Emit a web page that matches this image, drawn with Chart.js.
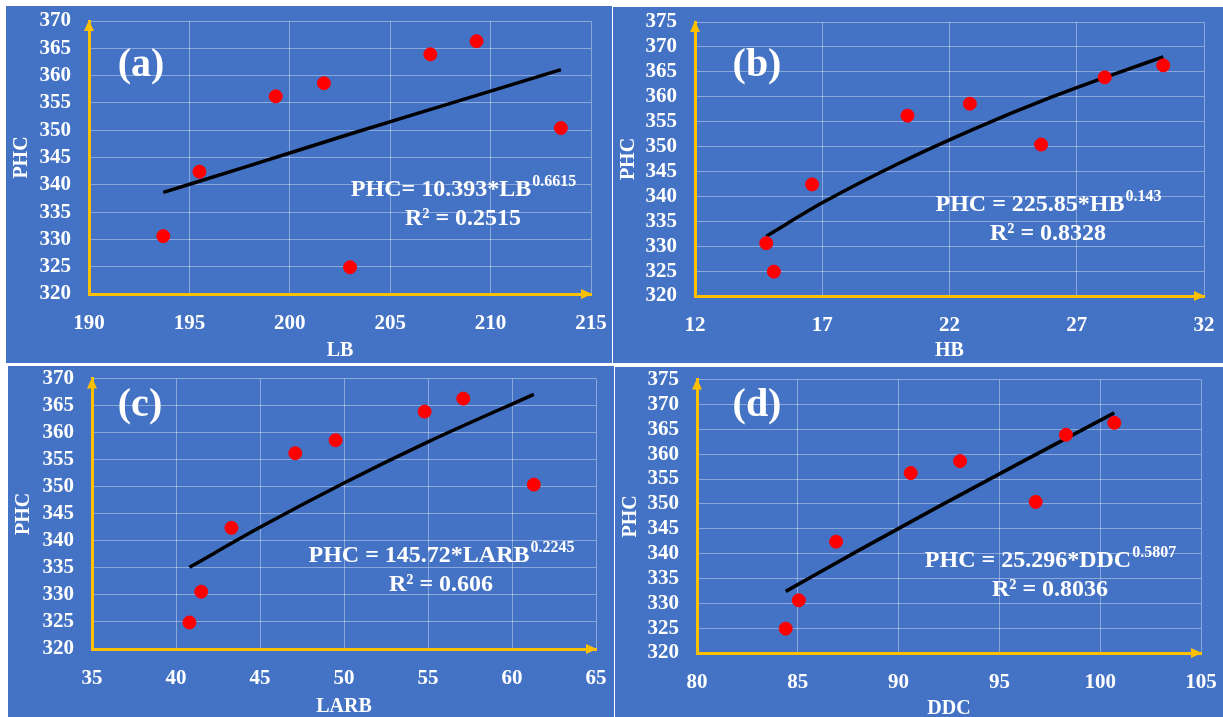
<!DOCTYPE html>
<html>
<head>
<meta charset="utf-8">
<script src="https://cdn.jsdelivr.net/npm/chart.js@4.4.0/dist/chart.umd.min.js"></script>
<style>
  body { margin: 0; background: #fff; width: 1223px; height: 717px; position: relative; overflow: hidden; }
  .panel { position: absolute; background: #4472C4; }
</style>
</head>
<body>
<div class="panel" style="left:6px;top:6px;width:606px;height:357px"><canvas id="chartA"></canvas></div>
<div class="panel" style="left:613px;top:7px;width:610px;height:356px"><canvas id="chartB"></canvas></div>
<div class="panel" style="left:8px;top:366px;width:606px;height:351px"><canvas id="chartC"></canvas></div>
<div class="panel" style="left:615px;top:367px;width:608px;height:350px"><canvas id="chartD"></canvas></div>
<script>
// measured samples (same order in every array)
const phc  = [324.9, 330.6, 342.4, 350.4, 356.2, 358.6, 363.9, 366.3];
const lb   = [203.0, 193.7, 195.5, 213.5, 199.3, 201.7, 207.0, 209.3];
const hb   = [15.1, 14.8, 16.6, 25.6, 20.35, 22.8, 28.1, 30.4];
const larb = [40.8, 41.5, 43.3, 61.3, 47.1, 49.5, 54.8, 57.1];
const ddc  = [84.4, 85.05, 86.9, 96.8, 90.6, 93.05, 98.3, 100.7];

// power trend lines
const trendLbX   = [193.7, 198, 203, 208, 213.5];
const trendLbY   = [338.6, 343.5, 349.3, 354.9, 361.1];
const trendHbX   = [14.8, 17, 20, 23, 26, 28.5, 30.4];
const trendHbY   = [332.0, 338.7, 346.6, 353.6, 359.9, 364.6, 368.0];
const trendLarbX = [40.8, 45, 50, 55, 61.3];
const trendLarbY = [335.1, 342.5, 350.7, 358.3, 367.1];
const trendDdcX  = [84.4, 88, 92, 96, 100.7];
const trendDdcY  = [332.4, 340.6, 349.5, 358.2, 368.3];

// tick labels
const phcTicks370 = [320, 325, 330, 335, 340, 345, 350, 355, 360, 365, 370];
const phcTicks375 = [320, 325, 330, 335, 340, 345, 350, 355, 360, 365, 370, 375];
const lbTicks   = [190, 195, 200, 205, 210, 215];
const hbTicks   = [12, 17, 22, 27, 32];
const larbTicks = [35, 40, 45, 50, 55, 60, 65];
const ddcTicks  = [80, 85, 90, 95, 100, 105];

const SERIF = '"Liberation Serif", "Times New Roman", serif';

const decor = {
    id: 'decor',
    afterDraw(chart, args, o) {
        const ctx = chart.ctx;
        const a = chart.chartArea;
        ctx.save();
        // axis arrow heads
        ctx.fillStyle = '#FFC000';
        ctx.beginPath();
        ctx.moveTo(a.left, a.top - 1);
        ctx.lineTo(a.left - 5, a.top + 10);
        ctx.lineTo(a.left + 5, a.top + 10);
        ctx.fill();
        ctx.beginPath();
        ctx.moveTo(a.right + 1, a.bottom);
        ctx.lineTo(a.right - 10, a.bottom - 5);
        ctx.lineTo(a.right - 10, a.bottom + 5);
        ctx.fill();

        // panel tag
        ctx.fillStyle = '#fff';
        ctx.font = 'bold 40px ' + SERIF;
        ctx.textAlign = 'center';
        ctx.textBaseline = 'middle';
        ctx.fillText(o.tag, o.tagPos[0], o.tagPos[1]);

        // equation with superscript
        ctx.textBaseline = 'alphabetic';
        ctx.textAlign = 'left';
        ctx.font = 'bold 24px ' + SERIF;
        const w1 = ctx.measureText(o.eq).width;
        ctx.font = 'bold 16px ' + SERIF;
        const w2 = ctx.measureText(o.pow).width;
        const x0 = o.eqPos[0] - (w1 + w2) / 2;
        ctx.font = 'bold 24px ' + SERIF;
        ctx.fillText(o.eq, x0, o.eqPos[1]);
        ctx.font = 'bold 16px ' + SERIF;
        ctx.fillText(o.pow, x0 + w1 + 1, o.eqPos[1] - 10);
        ctx.font = 'bold 24px ' + SERIF;
        ctx.textAlign = 'center';
        ctx.fillText(o.r2, o.eqPos[0], o.eqPos[1] + 29);
        ctx.restore();
    }
};

function makePanel(p) {
    const pts = p.xs.map((x, i) => ({ x: x, y: phc[i] }));
    const trend = p.trendX.map((x, i) => ({ x: x, y: p.trendY[i] }));
    // invisible tick marks act as the gap between axis and labels
    const gridX = { color: 'rgba(255,255,255,0.38)', lineWidth: 1, drawTicks: true, tickLength: 17, tickColor: 'rgba(0,0,0,0)' };
    const gridY = { color: 'rgba(255,255,255,0.38)', lineWidth: 1, drawTicks: true, tickLength: 18, tickColor: 'rgba(0,0,0,0)' };
    const border = { color: '#FFC000', width: 3 };
    const tickFont = { family: SERIF, size: 21, weight: 'bold' };
    const titleFont = { family: SERIF, size: 20, weight: 'bold', lineHeight: 1.2 };

    new Chart(document.getElementById(p.id), {
        type: 'scatter',
        data: {
            datasets: [
                {
                    data: pts,
                    backgroundColor: '#FF0000',
                    borderColor: '#FF0000',
                    pointRadius: 6.5,
                    order: 0
                },
                {
                    data: trend,
                    showLine: true,
                    borderColor: '#000',
                    borderWidth: 3.5,
                    pointRadius: 0,
                    cubicInterpolationMode: 'monotone',
                    order: 1
                }
            ]
        },
        options: {
            responsive: true,
            maintainAspectRatio: false,
            animation: false,
            devicePixelRatio: 1,
            layout: { padding: { left: 0, top: p.area.top, right: p.area.right, bottom: 0 } },
            plugins: {
                legend: { display: false },
                tooltip: { enabled: false },
                decor: {
                    tag: p.tag, tagPos: p.tagPos,
                    eq: p.eq, pow: p.pow, r2: p.r2, eqPos: p.eqPos
                }
            },
            scales: {
                x: {
                    type: 'linear',
                    min: p.xTicks[0],
                    max: p.xTicks[p.xTicks.length - 1],
                    afterBuildTicks: s => { s.ticks = p.xTicks.map(v => ({ value: v })); },
                    afterFit: s => { s.height = p.area.bottom; },
                    grid: gridX,
                    border: border,
                    ticks: { color: '#fff', font: tickFont, padding: 0, maxRotation: 0, autoSkip: false },
                    title: { display: true, text: p.xTitle, color: '#fff', font: titleFont, padding: { top: 0, bottom: p.xTitlePad } }
                },
                y: {
                    type: 'linear',
                    min: p.yTicks[0],
                    max: p.yTicks[p.yTicks.length - 1],
                    afterBuildTicks: s => { s.ticks = p.yTicks.map(v => ({ value: v })); },
                    afterFit: s => { s.width = p.area.left; },
                    grid: gridY,
                    border: border,
                    ticks: { color: '#fff', font: tickFont, padding: 0, autoSkip: false },
                    title: { display: true, text: 'PHC', color: '#fff', font: titleFont, padding: { top: 3.5, bottom: 0 } }
                }
            }
        },
        plugins: [decor]
    });
}

makePanel({
    id: 'chartA', xs: lb, xTicks: lbTicks, yTicks: phcTicks370,
    trendX: trendLbX, trendY: trendLbY, xTitle: 'LB', xTitlePad: 0,
    area: { left: 83, top: 15, right: 21, bottom: 69 },
    tag: '(a)', tagPos: [135, 60],
    eq: 'PHC= 10.393*LB', pow: '0.6615', r2: 'R\u00B2 = 0.2515', eqPos: [457, 190]
});
makePanel({
    id: 'chartB', xs: hb, xTicks: hbTicks, yTicks: phcTicks375,
    trendX: trendHbX, trendY: trendHbY, xTitle: 'HB', xTitlePad: 0,
    area: { left: 82, top: 15, right: 19, bottom: 67 },
    tag: '(b)', tagPos: [144, 59],
    eq: 'PHC = 225.85*HB', pow: '0.143', r2: 'R\u00B2 = 0.8328', eqPos: [435, 204]
});
makePanel({
    id: 'chartC', xs: larb, xTicks: larbTicks, yTicks: phcTicks370,
    trendX: trendLarbX, trendY: trendLarbY, xTitle: 'LARB', xTitlePad: -2,
    area: { left: 84, top: 12, right: 18, bottom: 68 },
    tag: '(c)', tagPos: [132, 40],
    eq: 'PHC = 145.72*LARB', pow: '0.2245', r2: 'R\u00B2 = 0.606', eqPos: [433, 196]
});
makePanel({
    id: 'chartD', xs: ddc, xTicks: ddcTicks, yTicks: phcTicks375,
    trendX: trendDdcX, trendY: trendDdcY, xTitle: 'DDC', xTitlePad: -4,
    area: { left: 82, top: 12, right: 22, bottom: 64 },
    tag: '(d)', tagPos: [142, 39],
    eq: 'PHC = 25.296*DDC', pow: '0.5807', r2: 'R\u00B2 = 0.8036', eqPos: [435, 200]
});
</script>
</body>
</html>
